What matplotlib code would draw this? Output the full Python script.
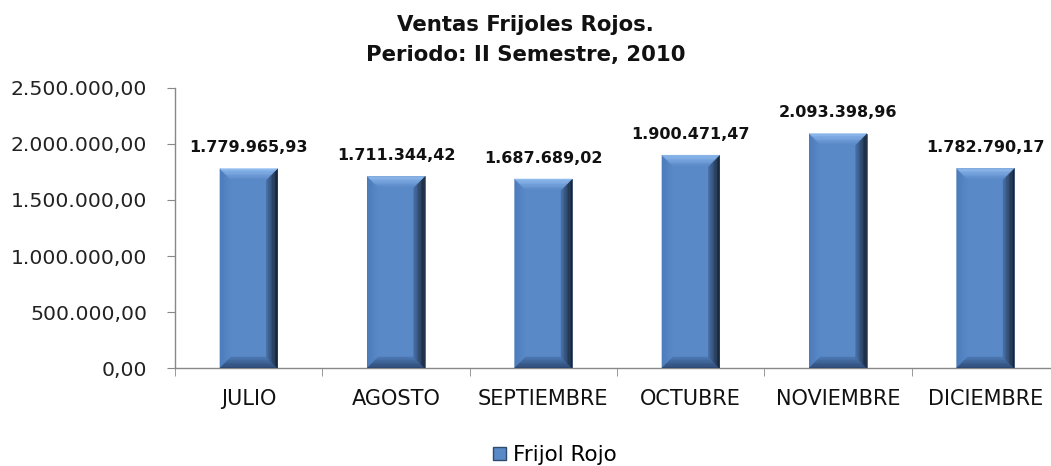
import matplotlib
matplotlib.use("Agg")
import matplotlib.pyplot as plt
from matplotlib.patches import Polygon, Patch
from matplotlib.colors import to_rgb
import numpy as np

months = ["JULIO", "AGOSTO", "SEPTIEMBRE", "OCTUBRE", "NOVIEMBRE", "DICIEMBRE"]
ventas = [1779965.93, 1711344.42, 1687689.02, 1900471.47, 2093398.96, 1782790.17]
y_ticks = [0, 500000, 1000000, 1500000, 2000000, 2500000]
series_name = "Frijol Rojo"
title = "Ventas Frijoles Rojos.\nPeriodo: II Semestre, 2010"

def fmt(v):
    s = f"{v:,.2f}"
    return s.replace(",", "X").replace(".", ",").replace("X", ".")

FONT = "DejaVu Sans"
fig = plt.figure(figsize=(10.51, 4.66), dpi=100)
ax = fig.add_axes([175/1051, 1-368/466, (1059-175)/1051, (368-88)/466])

x = np.arange(len(months))
main = "#5A89C8"
bars = ax.bar(x, ventas, width=0.39, color=main, edgecolor="#2E4A6E", linewidth=0.5, zorder=2)

ax.set_xlim(-0.5, len(months) - 0.5)
ax.set_ylim(0, 2500000)
ax.set_yticks(y_ticks)
ax.set_yticklabels([fmt(v) for v in y_ticks], fontsize=14.7, color="#222222", family=FONT)
ax.set_xticks(x)
ax.set_xticklabels(months, fontsize=15, color="#111111", family=FONT)
ax.set_xticks(np.arange(len(months) + 1) - 0.5, minor=True)
ax.tick_params(axis="x", which="major", length=0, pad=15)
ax.tick_params(axis="x", which="minor", length=6, color="#888888")
ax.tick_params(axis="y", length=6, color="#888888", pad=14)
for s in ["top", "right"]:
    ax.spines[s].set_visible(False)
for s in ["left", "bottom"]:
    ax.spines[s].set_color("#888888")
    ax.spines[s].set_linewidth(1.0)

def mix(c1, c2, t):
    a, b = np.array(to_rgb(c1)), np.array(to_rgb(c2))
    return tuple(a + (b - a) * t)

# bevel effect with gradients derived from each bar's own geometry
fig.canvas.draw()
inv = ax.transData.inverted()
n = 8
for b in bars:
    x0, y0 = b.get_x(), b.get_y()
    w, h = b.get_width(), b.get_height()
    (px0, py0) = ax.transData.transform((x0, y0))
    (px1, py1) = ax.transData.transform((x0 + w, y0 + h))
    d = 11
    def P(pts):
        return [inv.transform(p) for p in pts]
    for k in range(n):
        a, c = k * d / n, (k + 1) * d / n
        t = (k + 0.5) / n
        sides = [
            ([(px0 + a, py0 + a), (px0 + a, py1 - a), (px0 + c, py1 - c), (px0 + c, py0 + c)],
             mix("#4B7BBA", main, t)),
            ([(px0 + a, py0 + a), (px1 - a, py0 + a), (px1 - c, py0 + c), (px0 + c, py0 + c)],
             mix("#2C4770", "#4C78B2", t)),
            ([(px1 - a, py1 - a), (px1 - a, py0 + a), (px1 - c, py0 + c), (px1 - c, py1 - c)],
             mix("#14202F", "#4870A8", t)),
            ([(px0 + a, py1 - a), (px1 - a, py1 - a), (px1 - c, py1 - c), (px0 + c, py1 - c)],
             mix("#92BEF2", main, t)),
        ]
        for pts, col in sides:
            ax.add_patch(Polygon(P(pts), closed=True, facecolor=col, edgecolor=col,
                                 lw=0.3, zorder=3))

for b, v in zip(bars, ventas):
    ax.annotate(fmt(v), (b.get_x() + b.get_width() / 2, v), xytext=(0, 15),
                textcoords="offset points", ha="center", va="center",
                fontsize=11.5, fontweight="bold", family=FONT, color="#111111")

fig.text(0.5, 1 - 40/466, title, ha="center", va="center", fontsize=15.3,
         fontweight="bold", family=FONT, linespacing=1.65, color="#111111")

fig.legend(handles=[Patch(facecolor=main, edgecolor="#2E4A6E")], labels=[series_name],
           loc="center", bbox_to_anchor=(555/1051, 1 - 455/466), frameon=False,
           prop={"family": FONT, "size": 15.5},
           handlelength=0.6, handleheight=0.6, handletextpad=0.3)

fig.savefig("out.png", dpi=100)
